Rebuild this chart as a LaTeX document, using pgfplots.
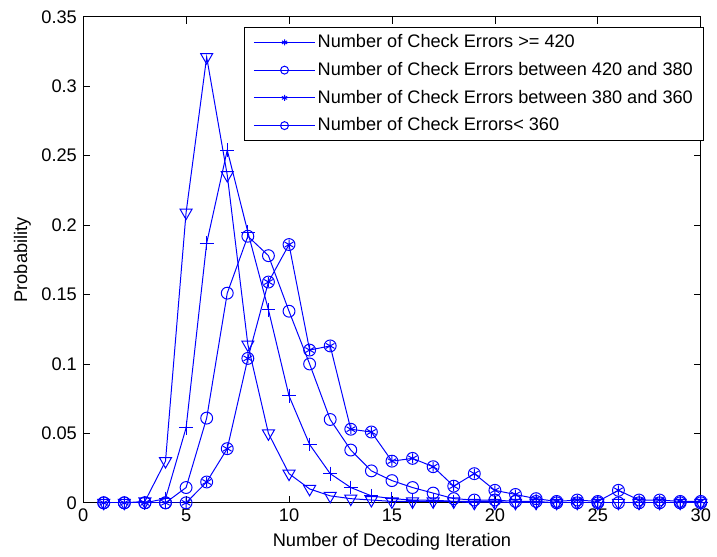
\documentclass[border=0pt]{standalone}
\usepackage{fontspec}
\setmainfont{Liberation Sans}
\usepackage{pgfplots}
\pgfplotsset{compat=1.18}
\pgfplotstableread{
x v p o a
1 0 0 0 0
2 0 0 0 0
3 0.001 0 0 0
4 0.030 0.003 0 0
5 0.209 0.054 0.011 0
6 0.321 0.187 0.061 0.015
7 0.236 0.254 0.151 0.039
8 0.114 0.195 0.192 0.104
9 0.050 0.139 0.178 0.159
10 0.021 0.077 0.138 0.186
11 0.010 0.042 0.100 0.110
12 0.005 0.021 0.060 0.113
13 0.003 0.011 0.038 0.053
14 0.002 0.005 0.023 0.051
15 0.001 0.003 0.016 0.030
16 0.001 0.002 0.011 0.032
17 0.001 0.002 0.007 0.026
18 0.001 0.001 0.003 0.012
19 0 0.001 0.002 0.021
20 0 0.001 0.002 0.009
21 0 0 0.001 0.006
22 0 0 0.001 0.003
23 0 0 0 0.001
24 0 0 0 0.002
25 0 0 0 0.001
26 0 0 0 0.009
27 0 0 0 0.002
28 0 0 0 0.002
29 0 0 0 0.001
30 0 0 0 0.001
}\data
\begin{document}
\fontsize{18.5}{22}\selectfont
\begin{tikzpicture}
\begin{axis}[
  scale only axis, width=624bp, height=491bp,
  xmin=0, xmax=30, ymin=0, ymax=0.35,
  xtick={0,5,...,30},
  ytick={0,0.05,0.1,0.15,0.2,0.25,0.3,0.35},
  yticklabels={0,0.05,0.1,0.15,0.2,0.25,0.3,0.35},
  /pgf/number format/assume math mode=true,
  tick align=inside, xtick pos=both, ytick pos=both,
  major tick length=7bp,
  every tick/.style={black, line width=0.8bp},
  axis line style={line width=0.8bp},
  tick label style={font=\fontsize{18.5}{22}\selectfont},
  label style={font=\fontsize{18.5}{22}\selectfont},
  xlabel={Number of Decoding Iteration},
  ylabel={Probability},
  xlabel style={yshift=1bp},
  ylabel style={yshift=-2bp},
  legend style={at={(1,0.978)}, xshift=3bp, anchor=north east, draw=black, line width=0.8bp, outer sep=0pt,
    font=\fontsize{18.4}{22}\selectfont, inner xsep=9bp, inner ysep=5bp, row sep=8bp},
  legend cell align=left,
  legend image code/.code={\draw[mark repeat=2,mark phase=2,#1] plot coordinates {(0bp,0bp) (31bp,0bp) (62bp,0bp)};},
]
\addlegendimage{blue, line width=1bp, mark=asterisk, mark size=3bp}
\addlegendentry{Number of Check Errors >= 420}
\addlegendimage{blue, line width=1bp, mark=o, mark size=4bp}
\addlegendentry{Number of Check Errors between 420 and 380}
\addlegendimage{blue, line width=1bp, mark=asterisk, mark size=3bp}
\addlegendentry{Number of Check Errors between 380 and 360}
\addlegendimage{blue, line width=1bp, mark=o, mark size=4bp}
\addlegendentry{Number of Check Errors< 360}
\addplot[forget plot, blue, line width=1bp, mark=triangle, mark size=7bp, mark options={rotate=180}] table[x=x,y=v]{\data};
\addplot[forget plot, blue, line width=1bp, mark=+, mark size=7bp] table[x=x,y=p]{\data};
\addplot[forget plot, blue, line width=1bp, mark=o, mark size=6bp] table[x=x,y=o]{\data};
\addplot[forget plot, blue, line width=1bp, mark=asterisk, mark size=5bp] table[x=x,y=a]{\data};
\addplot[forget plot, blue, line width=1bp, only marks, mark=o, mark size=6bp] table[x=x,y=a]{\data};
\end{axis}
\path ([shift={(-84bp,-52bp)}]current axis.south west) rectangle ([shift={(9bp,17bp)}]current axis.north east);
\end{tikzpicture}
\end{document}
